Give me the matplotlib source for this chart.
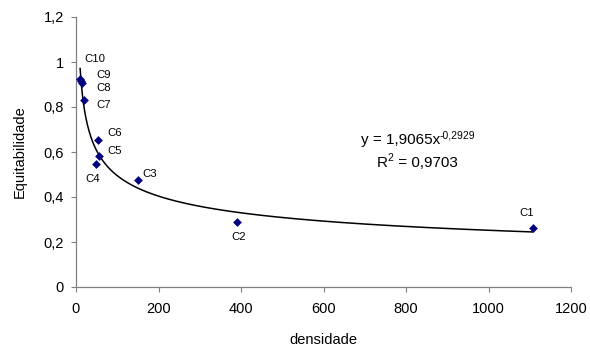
import numpy as np
import matplotlib
matplotlib.use("Agg")
import matplotlib.pyplot as plt

plt.rcParams['font.family'] = ['Liberation Sans', 'DejaVu Sans']

labels = ["C1", "C2", "C3", "C4", "C5", "C6", "C7", "C8", "C9", "C10"]
dens = [1107, 390, 151, 48.5, 55.8, 52.6, 19.4, 13.8, 11.5, 10]
equit = [0.262, 0.287, 0.476, 0.545, 0.582, 0.653, 0.831, 0.907, 0.916, 0.925]
coef_a = 1.9065
coef_b = -0.2929

# label offsets in points (centre of label relative to marker)
label_offsets = {
    "C1": (-4.3, 11), "C2": (1.5, -10.5), "C3": (7.9, 4.3), "C4": (-2.7, -10.8),
    "C5": (11.5, 3.8), "C6": (12.5, 5), "C7": (13.9, -3.6), "C8": (15.8, -3.4),
    "C9": (16.4, 4.6), "C10": (10.8, 14.5),
}

fig = plt.figure(figsize=(5.9, 3.51), dpi=100)
ax = fig.add_axes([76 / 590, (351 - 287) / 351, 495 / 590, 270 / 351])

xs = np.linspace(min(dens), max(dens), 800)
ax.plot(xs, coef_a * xs ** coef_b, color='black', lw=1.1, zorder=2)
ax.scatter(dens, equit, marker='D', s=20, color='#000080', zorder=3, linewidths=0)

for lab, x, y in zip(labels, dens, equit):
    dx, dy = label_offsets[lab]
    ax.annotate(lab, (x, y), xytext=(dx, dy), textcoords='offset points',
                fontsize=8.2, ha='center', va='center')

ax.set_xlim(0, 1200)
ax.set_ylim(0, 1.2)
ax.set_xticks(range(0, 1201, 200))
ax.set_yticks([0, 0.2, 0.4, 0.6, 0.8, 1.0, 1.2])
ax.set_yticklabels(["0", "0,2", "0,4", "0,6", "0,8", "1", "1,2"])
ax.spines['top'].set_visible(False)
ax.spines['right'].set_visible(False)
for s in ('left', 'bottom'):
    ax.spines[s].set_color('#808080')
    ax.spines[s].set_linewidth(0.9)
ax.tick_params(axis='both', direction='out', length=3.6, color='#808080', labelsize=10.5)
ax.tick_params(axis='y', pad=5)
ax.tick_params(axis='x', pad=7.4)
ax.set_xlabel("densidade", fontsize=10.5, labelpad=12)
ax.set_ylabel("Equitabilidade", fontsize=10.5, labelpad=12)


def sup_text(main, sup, cx_px, cy_px, size=11, sup_size=7.5):
    """Draw main text followed by a superscript, centred at pixel (cx, cy)."""
    renderer = fig.canvas.get_renderer()
    t1 = fig.text(0, 0, main, fontsize=size, ha='left', va='center')
    w1 = t1.get_window_extent(renderer).width
    t2 = fig.text(0, 0, sup, fontsize=sup_size, ha='left', va='center')
    w2 = t2.get_window_extent(renderer).width
    left = cx_px - (w1 + w2) / 2
    ypx = 351 - cy_px
    t1.set_position((left / 590, ypx / 351))
    t2.set_position(((left + w1) / 590, (ypx + 5) / 351))


def sup_mid(pre, sup, post, cx_px, cy_px, size=11, sup_size=7.5):
    renderer = fig.canvas.get_renderer()
    t1 = fig.text(0, 0, pre, fontsize=size, ha='left', va='center')
    w1 = t1.get_window_extent(renderer).width
    t2 = fig.text(0, 0, sup, fontsize=sup_size, ha='left', va='center')
    w2 = t2.get_window_extent(renderer).width
    t3 = fig.text(0, 0, post, fontsize=size, ha='left', va='center')
    w3 = t3.get_window_extent(renderer).width
    left = cx_px - (w1 + w2 + w3) / 2
    ypx = 351 - cy_px
    t1.set_position((left / 590, ypx / 351))
    t2.set_position(((left + w1 - 0.5) / 590, (ypx + 5) / 351))
    t3.set_position(((left + w1 + w2 - 0.5) / 590, ypx / 351))


sup_text("y = 1,9065x", "-0,2929", 418, 140)
sup_mid("R", "2", " = 0,9703", 417.5, 163)

fig.savefig("out.png", dpi=100)
